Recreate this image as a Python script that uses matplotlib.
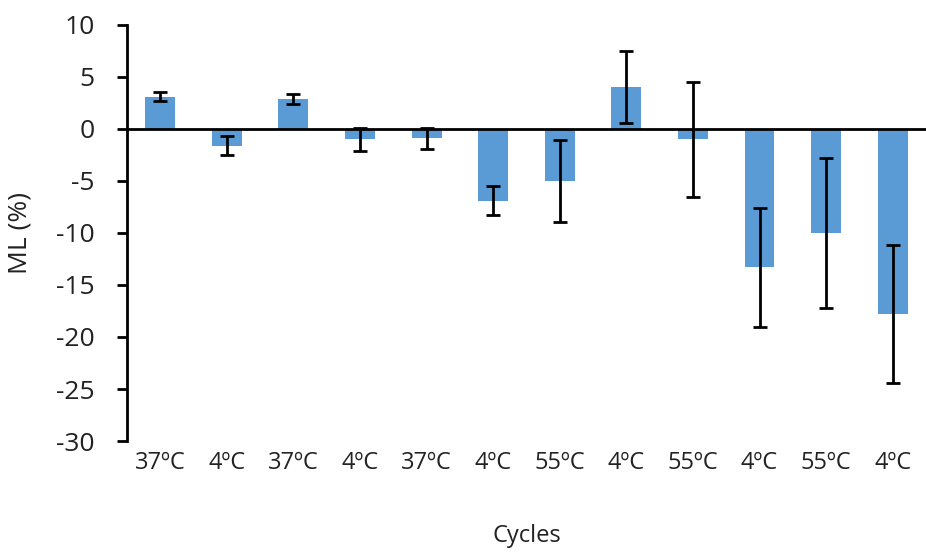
import matplotlib.pyplot as plt
import numpy as np

plt.rcParams['font.family'] = ['Open Sans', 'DejaVu Sans']
plt.rcParams['axes.unicode_minus'] = False

# Data
cycles = ['37ºC', '4ºC', '37ºC', '4ºC', '37ºC', '4ºC',
          '55ºC', '4ºC', '55ºC', '4ºC', '55ºC', '4ºC']
ml = [3.1, -1.6, 2.9, -1.0, -0.9, -6.9, -5.0, 4.05, -1.0, -13.3, -10.0, -17.8]
ml_err = [0.4, 0.9, 0.5, 1.1, 1.0, 1.4, 3.95, 3.45, 5.5, 5.7, 7.2, 6.6]

fig = plt.figure(figsize=(9.26, 5.52), dpi=100)
ax = fig.add_axes([0.137, 0.201, 0.863, 0.754])

x = np.arange(len(cycles))
ax.bar(x, ml, width=0.45, color='#5B9BD5', zorder=2)
ax.errorbar(x, ml, yerr=ml_err, fmt='none', ecolor='black',
            elinewidth=2, capsize=5, capthick=2, zorder=3)

# horizontal axis crosses at zero
ax.axhline(0, color='black', linewidth=2, zorder=4)

ax.set_xlim(-0.5, len(cycles) - 0.5)
ax.set_ylim(-30, 10)
ax.set_yticks(np.arange(-30, 11, 5))
ax.set_xticks(x)
ax.set_xticklabels(cycles)

for side in ['top', 'right', 'bottom']:
    ax.spines[side].set_visible(False)
ax.spines['left'].set_linewidth(2)

ax.tick_params(axis='x', length=0, pad=7, labelsize=17, colors='#222222')
ax.tick_params(axis='y', length=7, width=2, pad=16, labelsize=19,
               colors='black', labelcolor='#222222')

ax.set_xlabel('Cycles', fontsize=17, color='#222222')
ax.set_ylabel('ML (%)', fontsize=19, color='#222222')
ax.xaxis.set_label_coords(0.5, -0.2)
ax.yaxis.set_label_coords(-0.118, 0.5)

plt.savefig('out.png', dpi=100)
